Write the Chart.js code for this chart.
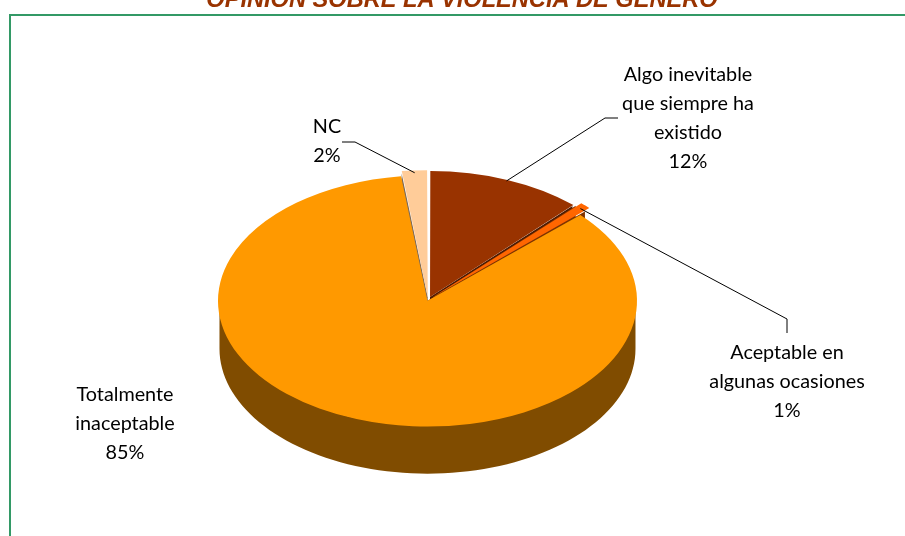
<!DOCTYPE html>
<html>
<head>
<meta charset="utf-8">
<script src="https://cdn.jsdelivr.net/npm/chart.js@4.4.1/dist/chart.umd.min.js"></script>
<style>
  html, body { margin: 0; padding: 0; background: #fff; overflow: hidden; }
  #wrap { position: relative; width: 905px; height: 536px; overflow: hidden; }
  #frame { position: absolute; left: 9px; top: 14px; width: 1000px; height: 700px;
           border: 2px solid #339966; box-sizing: border-box; }
  canvas { position: absolute; left: 0; top: 0; }
</style>
</head>
<body>
<div id="wrap">
  <div id="frame"></div>
  <canvas id="c" width="905" height="536"></canvas>
</div>
<script>
// ---- data ----
const chartTitle = "OPINIÓN SOBRE LA VIOLENCIA DE GÉNERO";
const categories = [
  "Algo inevitable que siempre ha existido",
  "Aceptable en algunas ocasiones",
  "Totalmente inaceptable",
  "NC"
];
const values = [12, 1, 85, 2];

// ---- styles / layout ----
const topColors  = ["#993300", "#FF6600", "#FF9900", "#FFCC99"];
const sideColors = ["#4D1A00", "#803300", "#804C00", "#806A55"];
const sliceOffsets = [22, 30, 6, 18];      // Chart.js offset (drawn /4)
const squash = 0.6, depth = 48;
const labelFont = "Lato, 'Open Sans', sans-serif";
const labelSize = 19.8, lineGap = 29;
// label box: center x, first line center y, wrap width, elbow points (null = no leader)
const labelLayout = [
  { x: 688, y: 75,  wrap: 150, leader: [[605, 118], [618, 118]] },
  { x: 787, y: 353, wrap: 175, leader: [[787, 319], [787, 333]] },
  { x: 125, y: 395, wrap: 125, leader: null },
  { x: 327, y: 127, wrap: 80,  leader: [[355, 142], [342, 142]] }
];

const total = values.reduce((a, b) => a + b, 0);

function wrapText(ctx, text, maxW) {
  const words = text.split(" ");
  const lines = [];
  let cur = "";
  for (const w of words) {
    const t = cur ? cur + " " + w : w;
    if (cur && ctx.measureText(t).width > maxW) { lines.push(cur); cur = w; }
    else cur = t;
  }
  if (cur) lines.push(cur);
  return lines;
}

function arcGeo(chart) {
  const meta = chart.getDatasetMeta(0);
  return meta.data.map((a, i) => {
    const p = a.getProps(["x", "y", "startAngle", "endAngle", "outerRadius"], true);
    const off = (a.options.offset || 0) / 4;
    const mid = (p.startAngle + p.endAngle) / 2;
    return { cx: p.x, cy: p.y, ox: p.x + Math.cos(mid) * off, oy: p.y + Math.sin(mid) * off,
             r: p.outerRadius, s: p.startAngle, e: p.endAngle, mid, i };
  });
}
function proj(g, x, y, dz) { return [x, g.cy + squash * (y - g.cy) + (dz || 0)]; }
function rimPt(g, a, dz) { return proj(g, g.ox + g.r * Math.cos(a), g.oy + g.r * Math.sin(a), dz); }
function ctrPt(g, dz) { return proj(g, g.ox, g.oy, dz); }

const pie3d = {
  id: "pie3d",
  beforeDatasetsDraw(chart) {
    const ctx = chart.ctx;
    const geo = arcGeo(chart);
    // radial faces
    geo.forEach(g => {
      [g.s, g.e].forEach(a => {
        const c0 = ctrPt(g, 0), e0 = rimPt(g, a, 0), e1 = rimPt(g, a, depth), c1 = ctrPt(g, depth);
        ctx.beginPath();
        ctx.moveTo(c0[0], c0[1]); ctx.lineTo(e0[0], e0[1]);
        ctx.lineTo(e1[0], e1[1]); ctx.lineTo(c1[0], c1[1]);
        ctx.closePath();
        ctx.fillStyle = sideColors[g.i];
        ctx.fill();
      });
    });
    // outer front walls
    geo.forEach(g => {
      for (const base of [-2 * Math.PI, 0, 2 * Math.PI]) {
        const lo = Math.max(g.s, base), hi = Math.min(g.e, base + Math.PI);
        if (hi <= lo) continue;
        const N = 80;
        ctx.beginPath();
        for (let k = 0; k <= N; k++) {
          const a = lo + (hi - lo) * k / N;
          const p = rimPt(g, a, 0);
          k === 0 ? ctx.moveTo(p[0], p[1]) : ctx.lineTo(p[0], p[1]);
        }
        for (let k = N; k >= 0; k--) {
          const a = lo + (hi - lo) * k / N;
          const p = rimPt(g, a, depth);
          ctx.lineTo(p[0], p[1]);
        }
        ctx.closePath();
        ctx.fillStyle = sideColors[g.i];
        ctx.fill();
      }
    });
    const cy = geo[0].cy;
    ctx.save();
    ctx.translate(0, cy * (1 - squash));
    ctx.scale(1, squash);
  },
  afterDatasetsDraw(chart) {
    chart.ctx.restore();
  },
  afterDraw(chart) {
    const ctx = chart.ctx;
    const geo = arcGeo(chart);
    ctx.save();
    // title
    ctx.font = "italic bold 23.6px 'Liberation Sans', Arial, sans-serif";
    ctx.fillStyle = "#993300";
    ctx.textAlign = "center";
    ctx.textBaseline = "alphabetic";
    ctx.fillText(chartTitle, 462, 7);
    // leaders
    ctx.strokeStyle = "#000";
    ctx.lineWidth = 1;
    geo.forEach(g => {
      const L = labelLayout[g.i];
      if (!L.leader) return;
      const p = rimPt(g, g.mid, 0);
      ctx.beginPath();
      ctx.moveTo(p[0], p[1]);
      L.leader.forEach(q => ctx.lineTo(q[0], q[1]));
      ctx.stroke();
    });
    // labels
    ctx.font = labelSize + "px " + labelFont;
    ctx.fillStyle = "#000";
    ctx.textBaseline = "middle";
    ctx.textAlign = "center";
    categories.forEach((name, i) => {
      const L = labelLayout[i];
      const lines = wrapText(ctx, name, L.wrap);
      lines.push(Math.round(values[i] / total * 100) + "%");
      lines.forEach((t, k) => ctx.fillText(t, L.x, L.y + k * lineGap));
    });
    ctx.restore();
  }
};

new Chart(document.getElementById("c"), {
  type: "pie",
  data: {
    labels: categories,
    datasets: [{
      data: values,
      backgroundColor: topColors,
      borderWidth: 0,
      offset: sliceOffsets,
      clip: false
    }]
  },
  options: {
    responsive: false,
    animation: false,
    radius: 208,
    layout: { padding: { left: 0, right: 49, top: 64, bottom: 0 } },
    plugins: { legend: { display: false }, tooltip: { enabled: false }, title: { display: false } }
  },
  plugins: [pie3d]
});
</script>
</body>
</html>
